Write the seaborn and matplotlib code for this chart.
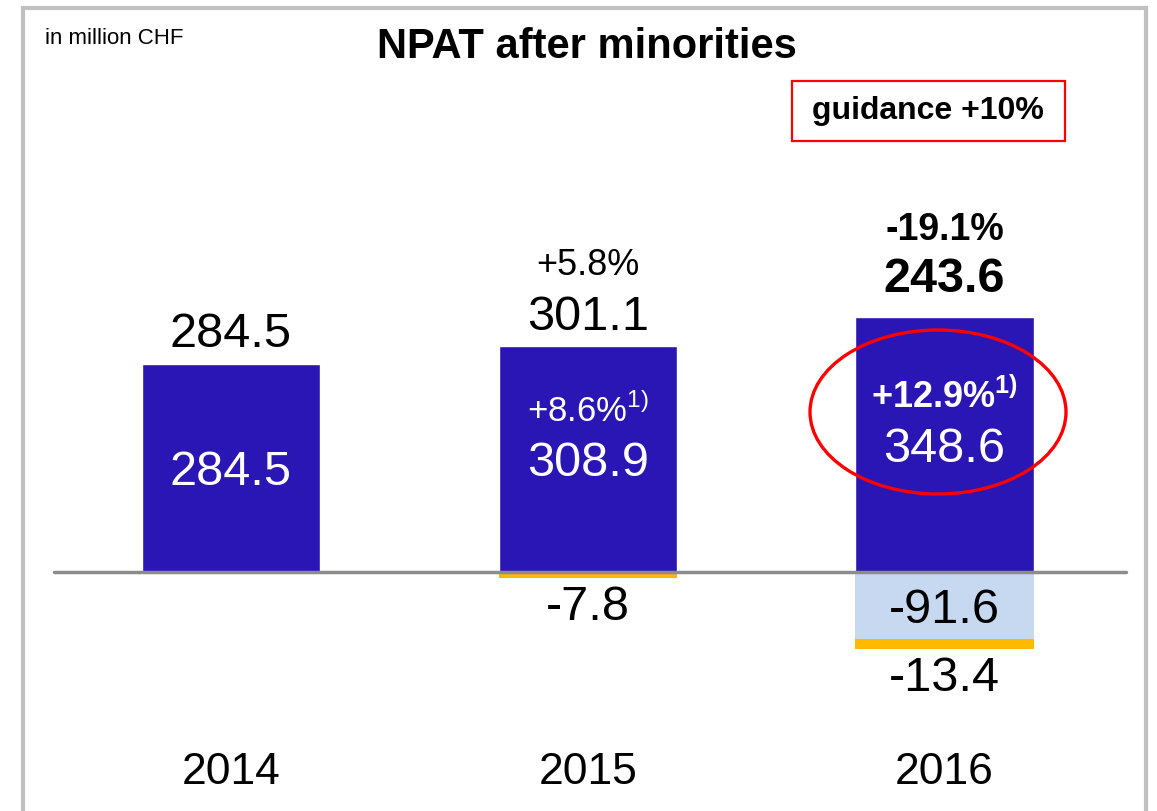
import numpy as np
import pandas as pd
import seaborn as sns
import matplotlib.pyplot as plt
from matplotlib.patches import Ellipse, Rectangle

# data (in million CHF)
years = ["2014", "2015", "2016"]
npat_underlying = [284.5, 308.9, 348.6]      # blue bars
growth_underlying = ["", "+8.6%", "+12.9%"]
one_offs = [0.0, 0.0, -91.6]                 # light blue
other_items = [0.0, -7.8, -13.4]             # orange
npat_reported = [284.5, 301.1, 243.6]
growth_reported = ["", "+5.8%", "-19.1%"]

BLUE = "#2A16B4"
LIGHT = "#C6D9F1"
ORANGE = "#FFB900"

sns.set_theme(style="white")
plt.rcParams['font.family'] = ['Liberation Sans', 'DejaVu Sans']
plt.rcParams['text.color'] = 'black'
plt.rcParams['mathtext.fontset'] = 'custom'
plt.rcParams['mathtext.rm'] = 'Liberation Sans'
plt.rcParams['mathtext.bf'] = 'Liberation Sans:bold'

# pixel scale of the slide
PX = 0.731          # px per million CHF
ZERO = 572          # baseline, px from top
W, H = 1157, 811

fig = plt.figure(figsize=(W / 100, H / 100), dpi=100)
ax = fig.add_axes([0, 0, 1, 1])

df = pd.DataFrame({"year": years, "npat": npat_underlying})
sns.barplot(data=df, x="year", y="npat", color=BLUE, saturation=1, width=0.5, ax=ax)
pos = np.arange(len(years))
ax.bar(pos, one_offs, width=0.5, color=LIGHT, linewidth=0)
ax.bar(pos, other_items, bottom=one_offs, width=0.5, color=ORANGE, linewidth=0)

step = 356.75
ax.set_xlim(-231 / step, (W - 231) / step)
ax.set_ylim(-(H - ZERO) / PX, ZERO / PX)
ax.axis("off")

ax.axhline(0, xmin=54 / W, xmax=1126 / W, color="#8C8C8C", lw=2.5, zorder=5)


def put(i, y, up, s, size, color="black", weight="normal"):
    # up = offset of cap-centre above y, in pixels
    cap = size * 100 / 72 * 0.716
    ax.annotate(s, (i, y), xytext=(0, up - cap / 2), textcoords="offset pixels",
                ha="center", va="baseline", fontsize=size, color=color,
                fontweight=weight, zorder=6)


for i in range(len(years)):
    top = npat_underlying[i]
    bold = (i == 2)
    w = "bold" if bold else "normal"
    # reported value above the bar
    put(i, top, 43 if bold else 34, f"{npat_reported[i]:.1f}", 35, weight=w)
    if growth_reported[i]:
        put(i, top, 91 if bold else 84, growth_reported[i], 27 if bold else 26, weight=w)
    # underlying value inside bar
    put(i, top / 2, 0, f"{top:.1f}", 35, color="white")
    if growth_underlying[i]:
        sup = r"$^{\mathbf{1)}}$" if bold else r"$^{1)}$"
        put(i, top / 2, 50, growth_underlying[i] + sup, 26 if bold else 25,
            color="white", weight=w)
    # negatives
    if one_offs[i] != 0:
        put(i, one_offs[i] / 2, 0, f"{one_offs[i]:.1f}", 35)
    if other_items[i] != 0:
        put(i, one_offs[i] + other_items[i], -25, f"{other_items[i]:.1f}", 35)
    ax.text(i, (H - 772) / H, years[i], transform=ax.get_xaxis_transform(),
            ha="center", va="center", fontsize=32, color="black")

# guidance highlight
ax.add_patch(Ellipse((2 - 6.5 / step, (ZERO - 412) / PX), 256 / step, 164 / PX,
                     fill=False, edgecolor="#FF0000", lw=2.4, zorder=7))

fig.text(587 / W, 1 - 47 / H, "NPAT after minorities", ha="center", va="center",
         fontsize=30, fontweight="bold", color="black")
fig.text(45 / W, 1 - 38 / H, "in million CHF", ha="left", va="center", fontsize=16,
         color="black")
fig.text(928 / W, 1 - 111 / H, "guidance +10%", ha="center", va="center",
         fontsize=23, fontweight="bold", color="black")
fig.patches.append(Rectangle((792 / W, 1 - 141 / H), (1065 - 792) / W, 60 / H,
                             transform=fig.transFigure, fill=False,
                             edgecolor="#FF0000", lw=1.6, figure=fig))

# slide frame
fig.patches.append(Rectangle((23 / W, -0.05), (1146 - 23) / W, 1.05 - 8 / H,
                             transform=fig.transFigure, fill=False,
                             edgecolor="#C0C0C0", lw=3, figure=fig))

fig.savefig("out.png", dpi=100)
